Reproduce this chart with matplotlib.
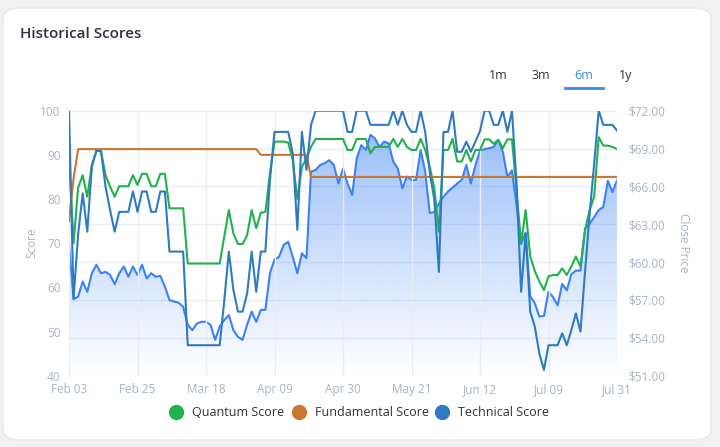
import matplotlib
matplotlib.use("Agg")
import matplotlib.pyplot as plt
import numpy as np
from matplotlib.patches import FancyBboxPatch
from matplotlib.lines import Line2D

tick_labels = ["Feb 03", "Feb 25", "Mar 18", "Apr 09", "Apr 30",
               "May 21", "Jun 12", "Jul 09", "Jul 31"]

quantum = [89.4, 70.0, 82.6, 85.4, 80.5, 87.7, 90.9, 90.9, 85.4, 82.8,
           80.5, 82.9, 82.9, 82.9, 85.4, 83.2, 85.7, 85.7, 82.9, 82.9,
           85.7, 85.7, 77.9, 77.9, 77.9, 77.9, 65.4, 65.4, 65.4, 65.4,
           65.4, 65.4, 65.4, 65.4, 71.5, 77.5, 72.2, 69.8, 69.8, 71.8,
           77.5, 73.4, 76.9, 77.1, 85.8, 93.0, 93.0, 93.0, 92.8, 88.8,
           80.0, 87.3, 89.2, 91.8, 93.6, 93.6, 93.6, 93.6, 93.6, 93.6,
           93.6, 91.1, 91.1, 93.6, 93.6, 93.6, 90.3, 91.8, 91.8, 91.8,
           91.8, 93.6, 91.8, 93.6, 91.8, 91.1, 91.1, 93.6, 91.1, 87.3,
           82.4, 72.6, 91.1, 91.1, 93.6, 88.5, 88.5, 91.1, 88.5, 91.1,
           91.1, 93.5, 93.5, 92.5, 93.4, 91.5, 93.5, 93.5, 82.0, 70.0,
           77.5, 67.0, 63.7, 61.3, 59.4, 62.5, 62.8, 62.8, 64.3, 62.8,
           64.7, 67.0, 64.7, 72.9, 77.5, 80.5, 94.0, 92.1, 92.1, 91.8,
           91.3]

fundamental = [75.0, 84.6] + [91.3] * 40 + [90.0] * 11 + [85.0] * 68

technical = [100.0, 57.5, 72.0, 81.3, 72.6, 87.3, 90.9, 90.9, 82.8, 77.5,
             72.6, 77.1, 77.1, 77.1, 81.7, 77.1, 81.7, 81.7, 77.1, 77.1,
             81.7, 81.7, 68.1, 68.1, 68.1, 68.1, 46.9, 46.9, 46.9, 46.9,
             46.9, 46.9, 46.9, 46.9, 57.0, 68.1, 59.4, 54.5, 54.5, 58.6,
             68.1, 59.0, 68.1, 68.1, 84.3, 95.2, 95.2, 95.2, 95.2, 90.3,
             73.0, 95.2, 86.6, 96.8, 100.0, 100.0, 100.0, 100.0, 100.0, 100.0,
             100.0, 95.2, 95.2, 100.0, 100.0, 100.0, 96.8, 96.8, 96.8, 96.8,
             96.8, 100.0, 96.8, 100.0, 96.8, 95.2, 95.2, 100.0, 95.2, 86.0,
             79.8, 63.5, 95.2, 95.2, 100.0, 90.7, 90.7, 93.0, 90.7, 93.0,
             95.4, 100.0, 100.0, 96.8, 96.8, 100.0, 95.2, 100.0, 83.5, 59.0,
             72.2, 54.5, 51.1, 45.0, 41.3, 46.9, 46.9, 46.9, 49.6, 46.9,
             50.3, 54.1, 50.0, 63.5, 76.5, 88.0, 100.0, 96.8, 96.8, 96.8,
             95.5]

close_price = [61.43, 57.06, 57.27, 58.46, 57.65, 59.12, 59.79, 59.12, 59.23, 58.98,
               58.25, 59.12, 59.65, 58.84, 59.65, 58.98, 59.79, 58.70, 59.12, 58.84,
               58.91, 58.07, 56.99, 56.88, 56.78, 56.46, 55.03, 54.61, 55.13, 55.27,
               55.27, 55.03, 53.84, 54.89, 55.41, 55.80, 54.61, 54.08, 53.84, 55.03,
               56.08, 55.27, 56.22, 56.22, 59.12, 60.21, 60.42, 61.36, 61.61, 60.42,
               59.12, 60.70, 60.31, 67.17, 67.31, 67.70, 67.84, 68.08, 67.70, 66.23,
               67.42, 66.23, 65.32, 68.22, 69.27, 68.89, 70.08, 69.80, 69.13, 69.55,
               69.41, 67.98, 67.42, 65.84, 66.79, 66.51, 66.51, 68.89, 67.17, 63.88,
               63.99, 64.65, 65.18, 65.60, 65.91, 66.23, 66.51, 67.70, 66.23, 67.70,
               68.82, 68.96, 69.03, 69.13, 69.69, 68.75, 66.75, 67.28, 64.51, 61.43,
               62.34, 57.30, 56.74, 55.69, 55.73, 57.65, 57.23, 56.57, 58.28, 57.76,
               59.05, 59.33, 59.33, 62.66, 63.04, 63.57, 64.13, 64.37, 66.44, 65.56,
               66.47]

series_names = ["Quantum Score", "Fundamental Score", "Technical Score"]

days = np.arange(len(quantum))

GREEN = "#22b24c"
ORANGE = "#c8782f"
TECH = "#2f7bc0"
PRICE = "#3b82f6"
AXIS_TXT = "#a8b3c4"
GRID = "#e8edf5"
LW = 1.5

plt.rcParams["font.family"] = ["Open Sans", "DejaVu Sans"]

fig = plt.figure(figsize=(7.2, 4.47), dpi=100)
fig.patch.set_facecolor("#f1f1f1")

# card behind everything
card = FancyBboxPatch((3 / 720, 7 / 447), 708 / 720, 432 / 447,
                      boxstyle="round,pad=0,rounding_size=0.025",
                      transform=fig.transFigure, facecolor="white",
                      edgecolor="#e6e6e6", linewidth=0.8, zorder=-10)
fig.patches.append(card)

fig.text(20 / 720, 1 - 34 / 447, "Historical Scores", fontsize=11,
         fontweight="semibold", color="#2d3340", va="center", ha="left")

# range buttons
for lab, xp in zip(["1m", "3m", "6m", "1y"], [498, 541, 584, 626]):
    fig.text(xp / 720, 1 - 75.5 / 447, lab, fontsize=9,
             color="#3b8be0" if lab == "6m" else "#333333",
             ha="center", va="center")
fig.add_artist(Line2D([565 / 720, 603 / 720], [1 - 88 / 447, 1 - 88 / 447],
                      transform=fig.transFigure, color="#3b8be0", linewidth=2))

ax = fig.add_axes([69 / 720, 1 - 375.7 / 447, 548 / 720, 265 / 447])
ax2 = ax.twinx()
ax2.set_zorder(1)
ax.set_zorder(2)
ax.patch.set_visible(False)
ax2.patch.set_visible(False)

# close price area with gradient fill
ax2.plot(days, close_price, color=PRICE, linewidth=LW, zorder=3)
poly = ax2.fill_between(days, close_price, 51, color="none", linewidth=0)
grad = np.zeros((256, 1, 4))
grad[:, 0, 0:3] = matplotlib.colors.to_rgb(PRICE)
grad[:, 0, 3] = np.linspace(0.55, 0.0, 256)
im = ax2.imshow(grad, extent=[0, days[-1], 51, 72], aspect="auto",
                origin="upper", zorder=2)
im.set_clip_path(poly.get_paths()[0], transform=ax2.transData)

ax.plot(days, quantum, color=GREEN, linewidth=LW, zorder=4)
ax.plot(days, fundamental, color=ORANGE, linewidth=LW, zorder=4)
ax.plot(days, technical, color=TECH, linewidth=LW, zorder=5)

ax.set_xlim(0, days[-1])
ax.set_ylim(40, 100)
ax2.set_ylim(51, 72)
ax.set_xticks(np.linspace(0, days[-1], len(tick_labels)))
ax.set_xticklabels(tick_labels)
ax.set_yticks(np.arange(40, 101, 10))
ax2.set_yticks(np.arange(51, 73, 3))
ax2.set_yticklabels([f"${v:.2f}" for v in np.arange(51, 73, 3)])

ax2.grid(True, color=GRID, linewidth=1)
ax2.xaxis.grid(False)
ax.xaxis.grid(True, color=GRID, linewidth=1)
ax.set_axisbelow(True)
ax2.set_axisbelow(True)
for a in (ax, ax2):
    for s in a.spines.values():
        s.set_visible(False)
ax.tick_params(axis="both", length=0, labelsize=8.5, labelcolor=AXIS_TXT)
ax.tick_params(axis="y", pad=6)
ax.tick_params(axis="x", pad=5)
ax2.tick_params(axis="y", length=0, labelsize=8.5, labelcolor=AXIS_TXT, pad=8)

fig.text(32 / 720, 1 - 243 / 447, "Score", rotation=90, fontsize=8.5,
         color=AXIS_TXT, ha="center", va="center")
fig.text(683 / 720, 1 - 243 / 447, "Close Price", rotation=270, fontsize=8.5,
         color=AXIS_TXT, ha="center", va="center")

# legend drawn by hand
ly = 1 - 412 / 447
for name, c, mx in zip(series_names, (GREEN, ORANGE, TECH), (176, 299, 442)):
    fig.add_artist(Line2D([mx / 720], [ly], transform=fig.transFigure,
                          marker="o", markersize=10, color=c, linestyle="none"))
    fig.text((mx + 16) / 720, ly, name, fontsize=9, color="#333333",
             ha="left", va="center")

fig.savefig("out.png", dpi=100, facecolor=fig.get_facecolor())
